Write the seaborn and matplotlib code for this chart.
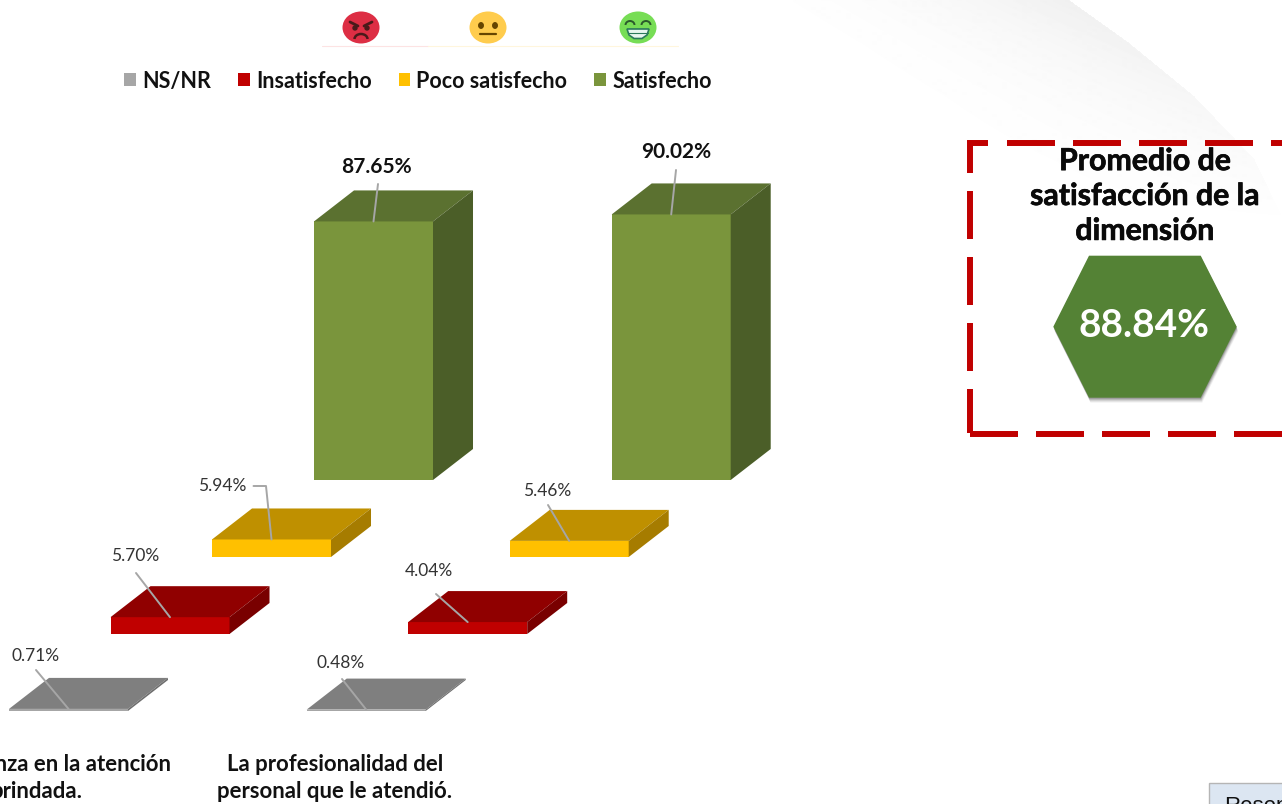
import numpy as np
import pandas as pd
import seaborn as sns
import matplotlib.pyplot as plt
import matplotlib.patheffects as pe
from matplotlib.lines import Line2D
from matplotlib.patches import Ellipse, Patch, Polygon, Rectangle, Arc

# Survey results per question, in percent
categories = ["Q1", "Q2"]
category_labels = ["Su confianza en la atención\nbrindada.",
                   "La profesionalidad del\npersonal que le atendió."]
series_names = ["NS/NR", "Insatisfecho", "Poco satisfecho", "Satisfecho"]
ns_nr = [0.71, 0.48]
insatisfecho = [5.70, 4.04]
poco_satisfecho = [5.94, 5.46]
satisfecho = [87.65, 90.02]
dimension_average = 88.84

W, H = 1282, 804
plt.rcParams["lines.scale_dashes"] = False
sns.set_theme(style="white")
plt.rcParams["font.family"] = ["Lato", "DejaVu Sans"]

fig = plt.figure(figsize=((W + 0.01) / 100, (H + 0.01) / 100), dpi=100, facecolor="white")

# Full-canvas layer addressed in pixels, y pointing down
canvas = fig.add_axes([0, 0, 1, 1], zorder=0)
canvas.axis("off")

# Soft grey sweep behind the top right corner
yy, xx = np.mgrid[0:H, 0:W]
edge_y = np.array([0, 43, 97, 160, 220, 804])
edge_x = np.array([1067, 1127, 1193, 1253, 1282, 1282])
dist = (np.interp(yy, edge_y, edge_x) - xx) * 0.62
shade = np.where(dist >= 0, np.clip(1 - dist / 230, 0, 1) ** 2 * 0.06, 0)
shade = shade * np.clip(1 - yy / 230, 0, 1)
canvas.imshow(1 - shade, cmap="gray", vmin=0, vmax=1, extent=(0, W, H, 0),
              aspect="auto", zorder=0, interpolation="bilinear")
canvas.set_xlim(0, W)
canvas.set_ylim(H, 0)

# Bar geometry: each series stands one step further back on the floor
PX_PER_PCT = 2.95
CATEGORY_STEP = 297.7
BAR_PX = 119.0
DEPTH = (40, -31)
series_style = {
    "Satisfecho": dict(values=satisfecho, center=373.5, base=480,
                       front="#7a953c", top="#5b7130", side="#4b5e28"),
    "Poco satisfecho": dict(values=poco_satisfecho, center=271.5, base=557,
                            front="#ffc000", top="#bf9000", side="#a67c00"),
    "Insatisfecho": dict(values=insatisfecho, center=170, base=634,
                         front="#c00000", top="#900000", side="#790000"),
    "NS/NR": dict(values=ns_nr, center=68.5, base=711,
                  front="#a6a6a6", top="#7f7f7f", side="#6e6e6e"),
}

# Label anchors in pixels: (text x, text y, leader end x, leader end y)
label_spots = {
    "Satisfecho": [(376, 167, 378, 184), (676, 152, 676, 170)],
    "Poco satisfecho": [(222.5, 486, 266, 486), (547, 491, 548, 505)],
    "Insatisfecho": [(135, 556, 136, 573), (429, 571, 436, 594)],
    "NS/NR": [(36, 656, 36, 670), (341, 663, 342, 679)],
}

order = 1
for name, st in series_style.items():
    left_px = st["center"] - CATEGORY_STEP / 2
    ax = fig.add_axes([left_px / W, (H - st["base"]) / H,
                       2 * CATEGORY_STEP / W, 100 * PX_PER_PCT / H],
                      zorder=order)
    order += 1
    ax.patch.set_alpha(0)
    frame = pd.DataFrame({"category": categories, "value": st["values"]})
    sns.barplot(data=frame, x="category", y="value", ax=ax, color=st["front"],
                saturation=1, width=BAR_PX / CATEGORY_STEP, errorbar=None,
                linewidth=0, clip_on=False)
    ax.set_xlim(-0.5, 1.5)
    ax.set_ylim(0, 100)
    ax.axis("off")

    # Top and side faces follow each drawn bar
    for i, bar in enumerate(ax.patches):
        x0 = st["center"] + i * CATEGORY_STEP - BAR_PX / 2
        x1 = x0 + BAR_PX
        y_top = st["base"] - bar.get_height() * PX_PER_PCT
        y_base = st["base"]
        dx, dy = DEPTH
        faces = [
            ([(x0, y_top), (x1, y_top), (x1 + dx, y_top + dy), (x0 + dx, y_top + dy)], st["top"]),
            ([(x1, y_top), (x1 + dx, y_top + dy), (x1 + dx, y_base + dy), (x1, y_base)], st["side"]),
        ]
        for pts, col in faces:
            ax.add_patch(Polygon([(p[0] / W, 1 - p[1] / H) for p in pts],
                                 closed=True, facecolor=col, edgecolor="none",
                                 transform=fig.transFigure, clip_on=False))

        # Value label with its grey leader line
        tx, ty, ex, ey = label_spots[name][i]
        cx = (x0 + x1) / 2
        elbow = name == "Poco satisfecho" and i == 0
        xs = [cx, ex] + ([tx + 31] if elbow else [])
        ys = [y_top, ey] + ([ey] if elbow else [])
        ax.add_line(Line2D([x / W for x in xs], [1 - y / H for y in ys],
                           transform=fig.transFigure, color="#a6a6a6", lw=1.4,
                           clip_on=False))
        big = name == "Satisfecho"
        fig.text(tx / W, 1 - ty / H, f"{bar.get_height():.2f}%",
                 ha="center", va="center", color="#111111" if big else "#333333",
                 fontsize=15 if big else 12.5, fontweight="bold" if big else "normal",
                 zorder=20)

# Category captions under the bars
top_layer = fig.add_axes([0, 0, 1, 1], zorder=10)
top_layer.set_xlim(0, W)
top_layer.set_ylim(H, 0)
top_layer.axis("off")
for text, cx in zip(category_labels, [37, 335]):
    top_layer.text(cx, 778, text, ha="center", va="center", fontsize=15.9,
                   fontweight="bold", color="#111111", linespacing=1.34)

# Legend row
colors = {"NS/NR": "#a6a6a6", "Insatisfecho": "#c00000",
          "Poco satisfecho": "#ffc000", "Satisfecho": "#7a953c"}
handles = [Patch(facecolor=colors[n], edgecolor="none", label=n) for n in series_names]
top_layer.legend(handles=handles, ncols=4, loc="center left", frameon=False,
                 bbox_to_anchor=(105 / W, 1 - 81 / H), bbox_transform=fig.transFigure,
                 prop={"weight": "bold", "size": 15.5}, handlelength=0.55, handleheight=0.55,
                 handletextpad=0.28, columnspacing=1.25, labelcolor="#111111")

# Satisfaction faces above the legend
def face(cx, color):
    top_layer.add_patch(Ellipse((cx, 27.5), 37, 32, facecolor=color, edgecolor="none"))

face(361, "#dd2e44")
top_layer.plot([350, 358], [22, 26], color="#4a1a1a", lw=2)
top_layer.plot([372, 364], [22, 26], color="#4a1a1a", lw=2)
top_layer.add_patch(Ellipse((355, 28), 4, 4, color="#4a1a1a"))
top_layer.add_patch(Ellipse((367, 28), 4, 4, color="#4a1a1a"))
top_layer.add_patch(Arc((361, 39), 13, 10, theta1=180, theta2=360, color="#4a1a1a", lw=1.8))
face(488, "#ffcc4d")
top_layer.add_patch(Ellipse((481, 25.5), 4.5, 5.5, color="#664500"))
top_layer.add_patch(Ellipse((495, 25.5), 4.5, 5.5, color="#664500"))
top_layer.plot([480, 496], [34.5, 34.5], color="#664500", lw=1.6)
face(638, "#77dd55")
top_layer.add_patch(Arc((630, 25), 9, 8, theta1=180, theta2=360, color="#2b5a2b", lw=1.4))
top_layer.add_patch(Arc((646, 25), 9, 8, theta1=180, theta2=360, color="#2b5a2b", lw=1.4))
top_layer.add_patch(Polygon([(627, 29), (649, 29), (647, 35), (642, 38.5), (634, 38.5), (629, 35)],
                            facecolor="#e8f6ef", edgecolor="#2b7a5a", lw=1.2))
top_layer.plot([628, 648], [33.5, 33.5], color="#2b7a5a", lw=0.8)
top_layer.plot([322, 428], [46.5, 46.5], color="#fde3e3", lw=0.8)
top_layer.plot([428, 678], [46.5, 46.5], color="#fff6dd", lw=0.8)

# Dashed frame running off the right edge
dash = dict(color="#c00000", lw=4.3, dashes=(34.56, 12.96), solid_capstyle="butt",
            dash_capstyle="butt", dash_joinstyle="miter")
top_layer.plot([1007, 1300], [143.5, 143.5], **dash)
top_layer.plot([988, 970.3, 970.3], [143.5, 143.5, 433], **dash)
top_layer.plot([970.3, 1300], [433.8, 433.8], **dash)

fig.text(1145 / W, 1 - 196 / H, "Promedio de\nsatisfacción de la\ndimensión",
         ha="center", va="center", fontsize=21.8, fontweight="bold", color="#0a0a0a",
         linespacing=1.3, zorder=20,
         path_effects=[pe.withStroke(linewidth=0.5, foreground="#0a0a0a")])

# Hexagon holding the dimension average
hexagon = np.array([(1053.3, 326.7), (1089, 255.7), (1200.7, 255.7),
                    (1236.7, 326.7), (1200.7, 397.7), (1089, 397.7)])
for k, alpha in zip([5, 4, 3, 2, 1], [0.05, 0.07, 0.09, 0.12, 0.15]):
    top_layer.add_patch(Polygon(hexagon + [k * 0.3, k], facecolor="black", alpha=alpha,
                                edgecolor="none"))
top_layer.add_patch(Polygon(hexagon, facecolor="#548235", edgecolor="none"))
top_layer.text(1144, 325, f"{dimension_average:.2f}%", ha="center", va="center",
               color="white", fontsize=28, fontweight="bold")

# Clipped note box in the bottom right corner
top_layer.add_patch(Rectangle((1208.5, 783.5), 90, 40, facecolor="#dce6f2",
                              edgecolor="#b5b5b5", lw=1))
top_layer.text(1224, 796, "Resen", ha="left", va="top", fontsize=16,
               family="Liberation Sans", color="#111111", clip_on=True)

fig.savefig("out.png", dpi=100, facecolor="white")
